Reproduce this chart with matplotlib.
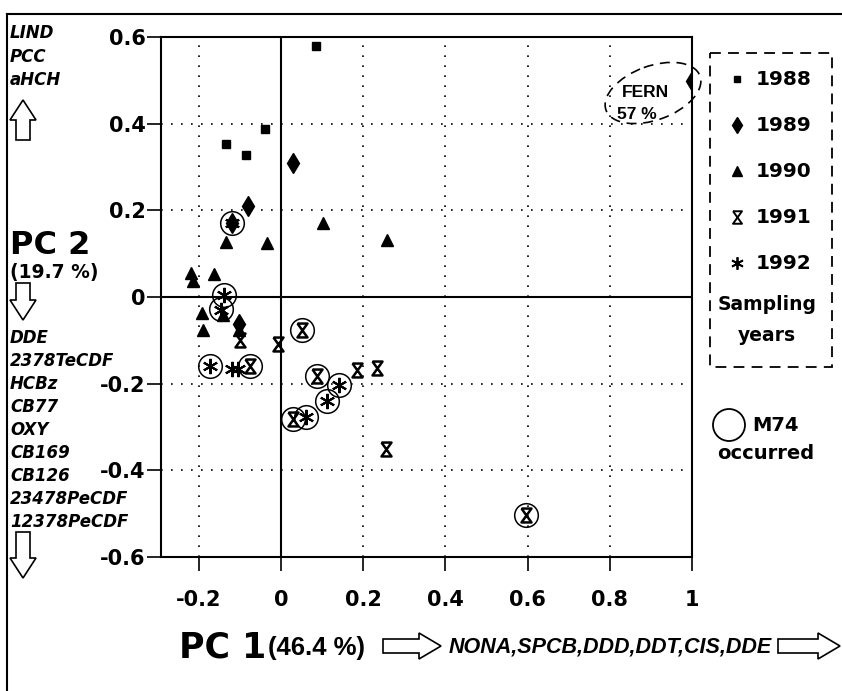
import matplotlib
matplotlib.use("Agg")
import matplotlib.pyplot as plt
from matplotlib.path import Path
from matplotlib.patches import Polygon, Rectangle, Ellipse

# ---------------- data ----------------
x1988 = [0.085, -0.038, -0.134, -0.084]
y1988 = [0.58, 0.388, 0.353, 0.328]

x1989 = [0.028, -0.081, 1.0, -0.12, -0.102]
y1989 = [0.309, 0.211, 0.498, 0.171, -0.062]

x1990 = [-0.134, -0.035, 0.101, 0.258, -0.218, -0.214, -0.163, -0.192, -0.19, -0.102, -0.141]
y1990 = [0.127, 0.125, 0.171, 0.131, 0.056, 0.038, 0.052, -0.037, -0.077, -0.076, -0.042]

x1991 = [-0.1, -0.008, 0.05, -0.075, 0.087, 0.185, 0.233, 0.028, 0.256, 0.595]
y1991 = [-0.1, -0.108, -0.076, -0.16, -0.182, -0.168, -0.164, -0.282, -0.35, -0.503]

x1992 = [-0.172, -0.12, -0.104, 0.142, 0.111, 0.062, -0.139, -0.146, -0.12]
y1992 = [-0.16, -0.166, -0.166, -0.202, -0.239, -0.276, 0.004, -0.03, 0.171]

xm74 = [-0.12, -0.139, -0.146, -0.172, -0.075, 0.05, 0.087, 0.142, 0.111, 0.062, 0.028, 0.595]
ym74 = [0.171, 0.004, -0.028, -0.16, -0.16, -0.076, -0.182, -0.202, -0.239, -0.276, -0.282, -0.503]

years = ["1988", "1989", "1990", "1991", "1992"]
xticks = [-0.2, 0, 0.2, 0.4, 0.6, 0.8, 1]
xticklabels = ["-0.2", "0", "0.2", "0.4", "0.6", "0.8", "1"]
yticks = [-0.6, -0.4, -0.2, 0, 0.2, 0.4, 0.6]
yticklabels = ["-0.6", "-0.4", "-0.2", "0", "0.2", "0.4", "0.6"]

pc2_up = ["LIND", "PCC", "aHCH"]
pc2_down = ["DDE", "2378TeCDF", "HCBz", "CB77", "OXY", "CB169", "CB126", "23478PeCDF", "12378PeCDF"]
pc1_vars = "NONA,SPCB,DDD,DDT,CIS,DDE"

# ---------------- figure ----------------
W, H = 842, 691
fig = plt.figure(figsize=(W / 100, H / 100), dpi=100)
fig.patch.set_facecolor("white")

L, R, T, B = 161, 692, 37, 557
ax = fig.add_axes([L / W, 1 - B / H, (R - L) / W, (B - T) / H])
ax.set_xlim(-0.292, 1.0)
ax.set_ylim(-0.6, 0.6)

for s in ax.spines.values():
    s.set_linewidth(1.5)

# grid
for xv in xticks:
    if xv != 0:
        ax.axvline(xv, color="black", lw=1.2, ls=(0, (1, 5)), zorder=1)
for yv in yticks:
    if yv != 0:
        ax.axhline(yv, color="black", lw=1.2, ls=(0, (1, 5)), zorder=1)
ax.axvline(0, color="black", lw=1.5, zorder=1)
ax.axhline(0, color="black", lw=1.5, zorder=1)

ax.set_xticks(xticks)
ax.set_xticklabels(xticklabels)
ax.set_yticks(yticks)
ax.set_yticklabels(yticklabels)
ax.tick_params(direction="out", length=10, width=1.2, labelsize=15, pad=1)
for lab in ax.get_xticklabels() + ax.get_yticklabels():
    lab.set_fontweight("bold")
    lab.set_family("DejaVu Sans")
ax.tick_params(axis="x", pad=14)

hourglass = Path([(-0.36, 0.5), (0.36, 0.5), (-0.36, -0.5), (0.36, -0.5), (-0.36, 0.5)],
                 [Path.MOVETO, Path.LINETO, Path.LINETO, Path.LINETO, Path.LINETO])

kw = dict(ls="none", color="black", zorder=3)
ax.plot(x1988, y1988, marker="s", ms=5.5, **kw)
ax.plot(x1989, y1989, marker="d", ms=10, **kw)
ax.plot(x1990, y1990, marker="^", ms=8.5, **kw)
ax.plot(x1991, y1991, marker=hourglass, ms=10, mfc="none", mew=1.8, **kw)
ax.plot(x1992, y1992, marker=(6, 2, 0), ms=11, mew=1.5, **kw)
ax.plot(xm74, ym74, marker="o", ms=17, mfc="none", mew=1.1, **kw)

# ---------------- decorations (pixel overlay) ----------------
d = fig.add_axes([0, 0, 1, 1], zorder=5)
d.set_xlim(0, W)
d.set_ylim(H, 0)
d.axis("off")
d.patch.set_visible(False)

# outer frame (top & left)
d.plot([7, W], [14, 14], color="black", lw=1.5)
d.plot([7, 7], [14, H], color="black", lw=1.5)

def vert_arrow(xc, ytop, ybot, up=True):
    hw, sw = 13, 7
    if up:
        hb = ytop + 20
        pts = [(xc, ytop), (xc + hw, hb), (xc + sw, hb), (xc + sw, ybot),
               (xc - sw, ybot), (xc - sw, hb), (xc - hw, hb)]
    else:
        hb = ybot - 20
        pts = [(xc, ybot), (xc + hw, hb), (xc + sw, hb), (xc + sw, ytop),
               (xc - sw, ytop), (xc - sw, hb), (xc - hw, hb)]
    d.add_patch(Polygon(pts, closed=True, fc="white", ec="black", lw=1.2))

def horiz_arrow(xl, xr, yc):
    hh, sh = 13, 7
    hb = xr - 22
    pts = [(xr, yc), (hb, yc - hh), (hb, yc - sh), (xl, yc - sh),
           (xl, yc + sh), (hb, yc + sh), (hb, yc + hh)]
    d.add_patch(Polygon(pts, closed=True, fc="white", ec="black", lw=1.2))

it = dict(family="DejaVu Sans", fontweight="bold", style="oblique", fontsize=12,
          ha="left", va="center")
for i, s in enumerate(pc2_up):
    d.text(10, 33 + 23.5 * i, s, **it)
vert_arrow(23, 100, 140, up=True)
d.text(10, 245, "PC 2", family="DejaVu Sans", fontweight="bold", fontsize=23,
       ha="left", va="center")
d.text(10, 272, "(19.7 %)", family="DejaVu Sans", fontweight="bold", fontsize=13.5,
       ha="left", va="center")
vert_arrow(23, 283, 320, up=False)
for i, s in enumerate(pc2_down):
    d.text(10, 338 + 23 * i, s, **it)
vert_arrow(23, 532, 578, up=False)

# bottom axis title
d.text(179, 648, "PC 1", family="DejaVu Sans", fontweight="bold", fontsize=25,
       ha="left", va="center")
d.text(268, 648, "(46.4 %)", family="Liberation Sans", fontweight="bold", fontsize=18.5,
       ha="left", va="center")
horiz_arrow(383, 441, 646)
d.text(449, 647, pc1_vars, family="Liberation Sans", fontweight="bold", style="italic",
       fontsize=15.5, ha="left", va="center")
horiz_arrow(778, 840, 646)

# FERN ellipse
d.add_patch(Ellipse((653, 93), 100, 54, angle=-20, fill=False, ec="black", lw=1.2,
                    ls=(0, (6, 4))))
d.text(622, 92, "FERN", family="Liberation Sans", fontweight="bold", fontsize=12.5,
       ha="left", va="center")
d.text(617, 114, "57 %", family="Liberation Sans", fontweight="bold", fontsize=12.5,
       ha="left", va="center")

# legend box
d.add_patch(Rectangle((710, 53), 122, 314, fill=False, ec="black", lw=1.3, ls=(0, (6, 4))))
leg_markers = [dict(marker="s", ms=5), dict(marker="d", ms=8),
               dict(marker="^", ms=7), dict(marker=hourglass, ms=9, mfc="none", mew=1.4),
               dict(marker=(6, 2, 0), ms=9, mew=1.3)]
leg_y = [79, 125, 171, 217, 263]
for yv, lab, mk in zip(leg_y, years, leg_markers):
    d.plot([737], [yv], ls="none", color="black", **mk)
    d.text(756, yv, lab, family="DejaVu Sans", fontweight="bold", fontsize=14.5,
           ha="left", va="center")
d.text(767, 304, "Sampling", family="DejaVu Sans", fontweight="bold", fontsize=13.5,
       ha="center", va="center")
d.text(767, 335, "years", family="DejaVu Sans", fontweight="bold", fontsize=13.5,
       ha="center", va="center")

d.add_patch(Ellipse((729, 425), 32, 32, fill=False, ec="black", lw=1.3))
d.text(752, 425, "M74", family="DejaVu Sans", fontweight="bold", fontsize=14,
       ha="left", va="center")
d.text(766, 453, "occurred", family="DejaVu Sans", fontweight="bold", fontsize=14,
       ha="center", va="center")

fig.savefig("out.png", dpi=100)
